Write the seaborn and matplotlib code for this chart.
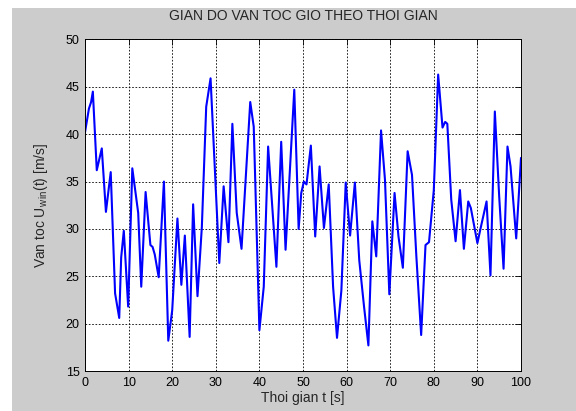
import matplotlib
matplotlib.use("Agg")
import matplotlib.pyplot as plt
import seaborn as sns
import pandas as pd
from matplotlib.patches import Rectangle

# Wind speed record: time stamps [s] and speeds [m/s]
t_s = [0, 0.9, 1.4, 1.8, 2.7, 3.85, 4.8, 5.9, 6.9, 7.85, 8.3, 8.9, 9.9,
       10.85, 12.2, 12.9, 13.9, 15.0, 15.5, 16.0, 16.9, 18.1, 19.1, 20.0,
       21.2, 22.1, 22.9, 24.0, 24.8, 25.8, 26.8, 27.8, 28.8, 30.8, 31.8,
       32.9, 33.8, 34.8, 35.9, 37.9, 38.7, 40.0, 41.0, 42.0, 43.9, 45.0,
       46.0, 48.0, 49.0, 49.6, 50.2, 50.8, 51.8, 52.8, 53.8, 54.8, 55.9,
       56.9, 57.8, 58.8, 59.8, 60.8, 61.9, 62.9, 64.0, 65.0, 65.9, 66.8,
       67.9, 68.8, 69.8, 71.0, 71.9, 72.9, 74.0, 75.0, 76.0, 77.1, 78.1,
       78.9, 80.0, 81.0, 82.0, 82.6, 83.1, 84.0, 85.0, 86.0, 86.9, 87.9,
       88.5, 90.0, 90.7, 92.1, 93.0, 94.0, 95.0, 96.0, 96.9, 97.6, 98.9,
       99.5, 100.0]
u_win = [40.2, 42.7, 43.4, 44.5, 36.2, 38.5, 31.8, 36.0, 23.2, 20.6, 27.0,
         29.8, 21.8, 36.4, 31.7, 23.9, 33.9, 28.3, 28.1, 27.3, 24.9, 35.0,
         18.2, 21.4, 31.1, 24.1, 29.3, 18.6, 32.6, 22.9, 30.2, 42.9, 45.9,
         26.4, 34.5, 28.6, 41.1, 31.7, 27.9, 43.4, 40.8, 19.3, 23.9, 38.7,
         26.0, 39.2, 27.8, 44.7, 30.0, 33.8, 35.0, 34.7, 38.8, 29.2, 36.6,
         30.1, 34.7, 23.9, 18.5, 23.5, 34.9, 29.3, 34.9, 26.7, 21.8, 17.7,
         30.8, 27.1, 40.4, 35.2, 23.1, 33.8, 29.2, 25.9, 38.2, 35.7, 27.1,
         18.8, 28.3, 28.6, 34.1, 46.3, 40.7, 41.3, 41.1, 33.1, 28.7, 34.1,
         27.9, 32.9, 32.2, 28.5, 30.0, 32.9, 25.1, 42.4, 33.4, 25.8, 38.7,
         36.6, 29.0, 33.6, 37.5]

x_ticks = list(range(0, 101, 10))
y_ticks = list(range(15, 51, 5))

sns.set_style("white")
plt.rcParams["font.family"] = ["Liberation Sans", "DejaVu Sans"]
plt.rcParams["mathtext.fontset"] = "custom"
plt.rcParams["mathtext.rm"] = "Liberation Sans"
plt.rcParams["mathtext.it"] = "Liberation Sans"

df = pd.DataFrame({"t": t_s, "u": u_win})

fig = plt.figure(figsize=(5.76, 4.11), dpi=100, facecolor="white")
# grey window background
fig.patches.append(Rectangle((12 / 576, 0), 1 - 12 / 576, 1 - 8 / 411,
                             transform=fig.transFigure, facecolor="#cccccc",
                             edgecolor="none", zorder=-10))

ax = fig.add_axes([85 / 576, 1 - 371 / 411, 436 / 576, 331.5 / 411])
ax.set_facecolor("white")
ax.set_axisbelow(True)

sns.lineplot(data=df, x="t", y="u", ax=ax, sort=False, estimator=None,
             color=(0, 0, 1), linewidth=1.5)

ax.set_xlim(0, 100)
ax.set_ylim(15, 50)
ax.set_xticks(x_ticks)
ax.set_yticks(y_ticks)
ax.tick_params(axis="both", direction="in", length=4, width=0.6,
               labelsize=9, colors="black", top=True, right=True, pad=4)
ax.grid(True, linestyle=(0, (2, 2)), color="black", linewidth=0.6)
for s in ax.spines.values():
    s.set_visible(True)
    s.set_color("black")
    s.set_linewidth(0.7)

ax.set_title("GIAN DO VAN TOC GIO THEO THOI GIAN", fontsize=10, pad=14)
ax.set_xlabel("Thoi gian t [s]", fontsize=10, labelpad=2)
ax.set_ylabel(r"Van toc U$_{\mathrm{w\,in}}$(t) [m/s]", fontsize=10, labelpad=11)

fig.savefig("out.png", dpi=100, facecolor=fig.get_facecolor())
